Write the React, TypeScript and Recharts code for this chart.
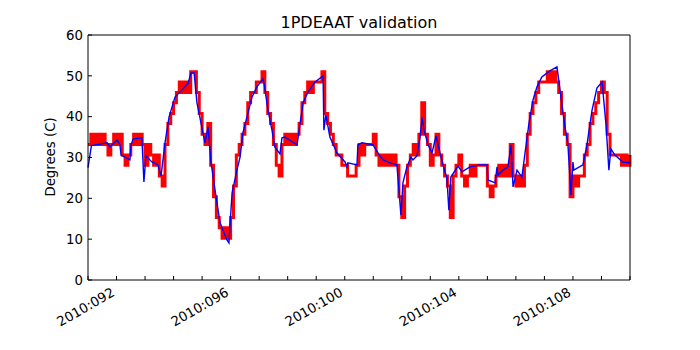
import { LineChart, Line, XAxis, YAxis } from "recharts";

// msid 1PDEAAT, 2010 day-of-year
const redStartDay = 91;
const redStepDay = 0.1;
const redTemps = [
  33.2, 35.7, 33.2, 35.7, 33.2, 35.7, 33.2, 30.6, 33.2, 35.7,
  33.2, 35.7, 30.6, 28.1, 30.6, 33.2, 35.7, 33.2, 35.7, 33.2,
  28.1, 33.2, 30.6, 28.1, 30.6, 25.5, 23.0, 33.2, 38.3, 40.8,
  43.4, 45.9, 48.5, 45.9, 48.5, 45.9, 51.0, 51.0, 45.9, 40.8,
  35.7, 33.2, 38.3, 28.1, 20.4, 15.3, 12.8, 10.2, 12.8, 10.2,
  15.3, 23.0, 30.6, 33.2, 35.7, 38.3, 43.4, 45.9, 45.9, 48.5,
  48.5, 51.0, 45.9, 40.8, 38.3, 33.2, 28.1, 25.5, 33.2, 35.7,
  33.2, 35.7, 33.2, 35.7, 38.3, 43.4, 45.9, 48.5, 45.9, 48.5,
  48.5, 48.5, 51.0, 40.8, 38.3, 35.7, 33.2, 30.6, 30.6, 28.1,
  28.1, 25.5, 25.5, 25.5, 28.1, 33.2, 30.6, 33.2, 33.2, 33.2,
  35.7, 30.6, 28.1, 30.6, 28.1, 30.6, 28.1, 30.6, 28.1, 20.4,
  15.3, 23.0, 28.1, 30.6, 33.2, 30.6, 35.7, 43.4, 35.7, 33.2,
  28.1, 30.6, 35.7, 30.6, 28.1, 25.5, 23.0, 15.3, 25.5, 28.1,
  30.6, 25.5, 23.0, 25.5, 28.1, 25.5, 28.1, 28.1, 28.1, 28.1,
  23.0, 20.4, 23.0, 25.5, 28.1, 25.5, 28.1, 25.5, 33.2, 25.5,
  23.0, 25.5, 23.0, 28.1, 35.7, 40.8, 43.4, 45.9, 48.5, 48.5,
  48.5, 51.0, 48.5, 51.0, 48.5, 45.9, 40.8, 35.7, 33.2, 20.4,
  25.5, 23.0, 25.5, 25.5, 30.6, 33.2, 38.3, 40.8, 43.4, 45.9,
  48.5, 45.9, 35.7, 30.6, 30.6, 30.6, 30.6, 28.1, 30.6, 28.1, 30.6,
];

// model prediction
const blueDays = [
  91.0, 91.12, 91.67, 91.77, 92.02, 92.12, 92.16, 92.47, 92.51, 92.58,
  92.89, 92.96, 93.03, 93.24, 93.45, 93.56, 93.7, 93.84, 94.05, 94.29,
  94.51, 94.61, 94.72, 94.82, 95.1, 95.21, 95.31, 95.49, 95.63, 95.87,
  95.94, 96.05, 96.22, 96.33, 96.43, 96.57, 96.75, 96.92, 97.13, 97.17,
  97.31, 97.45, 97.55, 97.73, 97.8, 97.9, 98.33, 98.4, 98.54, 98.71,
  98.96, 99.24, 99.27, 99.34, 99.48, 99.73, 100.01, 100.08, 100.11, 100.43,
  100.46, 100.6, 100.99, 101.23, 101.34, 101.59, 101.83, 101.97, 102.04, 102.18,
  102.32, 102.39, 102.53, 102.64, 102.71, 102.78, 102.92, 103.06, 103.2, 103.34,
  103.51, 103.58, 103.65, 103.72, 103.97, 104.11, 104.39, 104.74, 104.99, 105.02,
  105.27, 105.34, 105.37, 105.55, 105.72, 105.83, 105.9, 106.04, 106.21, 106.32,
  106.46, 106.6, 106.74, 106.91, 107.19, 107.44, 107.58, 107.72, 107.82, 107.93,
  108.0, 108.03, 108.35, 108.49, 108.67, 108.84, 109.02, 109.16, 109.26, 109.33,
  109.47, 109.75, 110.0,
];
const blueTemps = [
  27.5, 32.9, 33.6, 32.6, 34.3, 33.1, 30.6, 29.4, 33.1, 34.5,
  34.8, 24.0, 30.4, 28.9, 28.2, 25.5, 33.6, 39.9, 44.8, 46.5,
  48.2, 50.7, 50.7, 43.4, 33.6, 37.5, 28.9, 20.3, 14.0, 9.8,
  9.1, 21.3, 26.9, 30.1, 36.0, 39.9, 44.8, 47.3, 49.2, 48.2,
  41.6, 36.7, 32.6, 30.9, 34.8, 35.0, 33.1, 36.7, 43.4, 46.0,
  48.5, 50.0, 36.7, 40.4, 35.0, 31.1, 28.9, 27.7, 28.7, 28.2,
  33.1, 33.6, 33.1, 30.4, 29.4, 28.7, 28.2, 15.9, 23.8, 27.7,
  30.1, 29.4, 30.4, 35.0, 39.7, 36.7, 33.1, 31.1, 35.3, 31.1,
  26.5, 25.2, 17.1, 25.2, 27.9, 26.5, 27.7, 28.2, 28.2, 24.5,
  23.8, 27.7, 25.7, 26.9, 27.7, 33.1, 22.8, 26.9, 25.2, 31.1,
  38.5, 44.1, 47.3, 49.7, 51.2, 52.2, 44.8, 37.5, 33.6, 20.8,
  28.9, 26.9, 28.2, 33.1, 41.6, 47.0, 48.5, 38.0, 26.9, 32.1,
  30.6, 28.9, 28.7,
];

const dayTicks = [91, 92, 93, 94, 95, 96, 97, 98, 99, 100, 101, 102, 103, 104, 105, 106, 107, 108, 109, 110];
const labelDays = [92, 96, 100, 104, 108];
const tempTicks = [0, 10, 20, 30, 40, 50, 60];

const redData = redTemps.map((temp, i) => ({ day: redStartDay + i * redStepDay, temp }));
const blueData = blueDays.map((day, i) => ({ day, temp: blueTemps[i] }));

const FONT = "'DejaVu Sans', sans-serif";
const TICK_FS = 13.3;

function fmtDay(d: number) {
  return "2010:" + String(d).padStart(3, "0");
}

function BottomTick(props: any) {
  const { x, y, payload } = props;
  const major = labelDays.includes(payload.value);
  const tx = x - 1;
  const ty = y + 15;
  return (
    <g>
      <line x1={x} y1={y} x2={x} y2={y - 4} stroke="#000" strokeWidth={1} />
      {major && (
        <text
          x={tx}
          y={ty}
          textAnchor="end"
          transform={`rotate(-30, ${tx}, ${ty})`}
          fontSize={TICK_FS}
          fontFamily={FONT}
          fill="#000"
        >
          {fmtDay(payload.value)}
        </text>
      )}
    </g>
  );
}

function TopTick(props: any) {
  const { x, y } = props;
  return <line x1={x} y1={y} x2={x} y2={y + 4} stroke="#000" strokeWidth={1} />;
}

function LeftTick(props: any) {
  const { x, y, payload } = props;
  return (
    <g>
      <line x1={x} y1={y} x2={x + 4} y2={y} stroke="#000" strokeWidth={1} />
      <text x={x - 5} y={y} dy="0.36em" textAnchor="end" fontSize={TICK_FS} fontFamily={FONT} fill="#000">
        {payload.value}
      </text>
    </g>
  );
}

function RightTick(props: any) {
  const { x, y } = props;
  return <line x1={x} y1={y} x2={x - 4} y2={y} stroke="#000" strokeWidth={1} />;
}

export default function App() {
  return (
    <div style={{ position: "absolute", left: 0, top: 0, width: 700, height: 350, background: "#fff", fontFamily: FONT }}>
      <div
        style={{
          position: "absolute",
          left: 88,
          width: 542,
          top: 14.5,
          textAlign: "center",
          fontSize: 16,
          lineHeight: "16px",
          color: "#000",
        }}
      >
        1PDEAAT validation
      </div>
      <div
        style={{
          position: "absolute",
          left: 50,
          top: 157,
          transform: "translate(-50%, -50%) rotate(-90deg)",
          fontSize: TICK_FS,
          whiteSpace: "nowrap",
          color: "#000",
        }}
      >
        Degrees (C)
      </div>
      <LineChart width={700} height={350} margin={{ top: 34, right: 69, bottom: 10, left: 0 }}>
        <XAxis
          xAxisId="bottom"
          dataKey="day"
          type="number"
          domain={[91, 110]}
          ticks={dayTicks}
          interval={0}
          height={60}
          tickSize={0}
          tickMargin={0}
          tick={BottomTick}
          axisLine={{ stroke: "#000" }}
          tickLine={false}
        />
        <XAxis
          xAxisId="top"
          orientation="top"
          dataKey="day"
          type="number"
          domain={[91, 110]}
          ticks={dayTicks}
          interval={0}
          height={1}
          tickSize={0}
          tickMargin={0}
          tick={TopTick}
          axisLine={{ stroke: "#000" }}
          tickLine={false}
        />
        <YAxis
          yAxisId="left"
          type="number"
          domain={[0, 60]}
          ticks={tempTicks}
          interval={0}
          width={88}
          tickSize={0}
          tickMargin={0}
          tick={LeftTick}
          axisLine={{ stroke: "#000" }}
          tickLine={false}
        />
        <YAxis
          yAxisId="right"
          orientation="right"
          type="number"
          domain={[0, 60]}
          ticks={tempTicks}
          interval={0}
          width={1}
          tickSize={0}
          tickMargin={0}
          tick={RightTick}
          axisLine={{ stroke: "#000" }}
          tickLine={false}
        />
        <Line
          xAxisId="bottom"
          yAxisId="left"
          data={redData}
          dataKey="temp"
          type="stepAfter"
          stroke="#ff0000"
          strokeWidth={3}
          dot={false}
          isAnimationActive={false}
        />
        <Line
          xAxisId="bottom"
          yAxisId="left"
          data={blueData}
          dataKey="temp"
          type="linear"
          stroke="#0000ff"
          strokeWidth={1.4}
          dot={false}
          isAnimationActive={false}
        />
      </LineChart>
    </div>
  );
}
